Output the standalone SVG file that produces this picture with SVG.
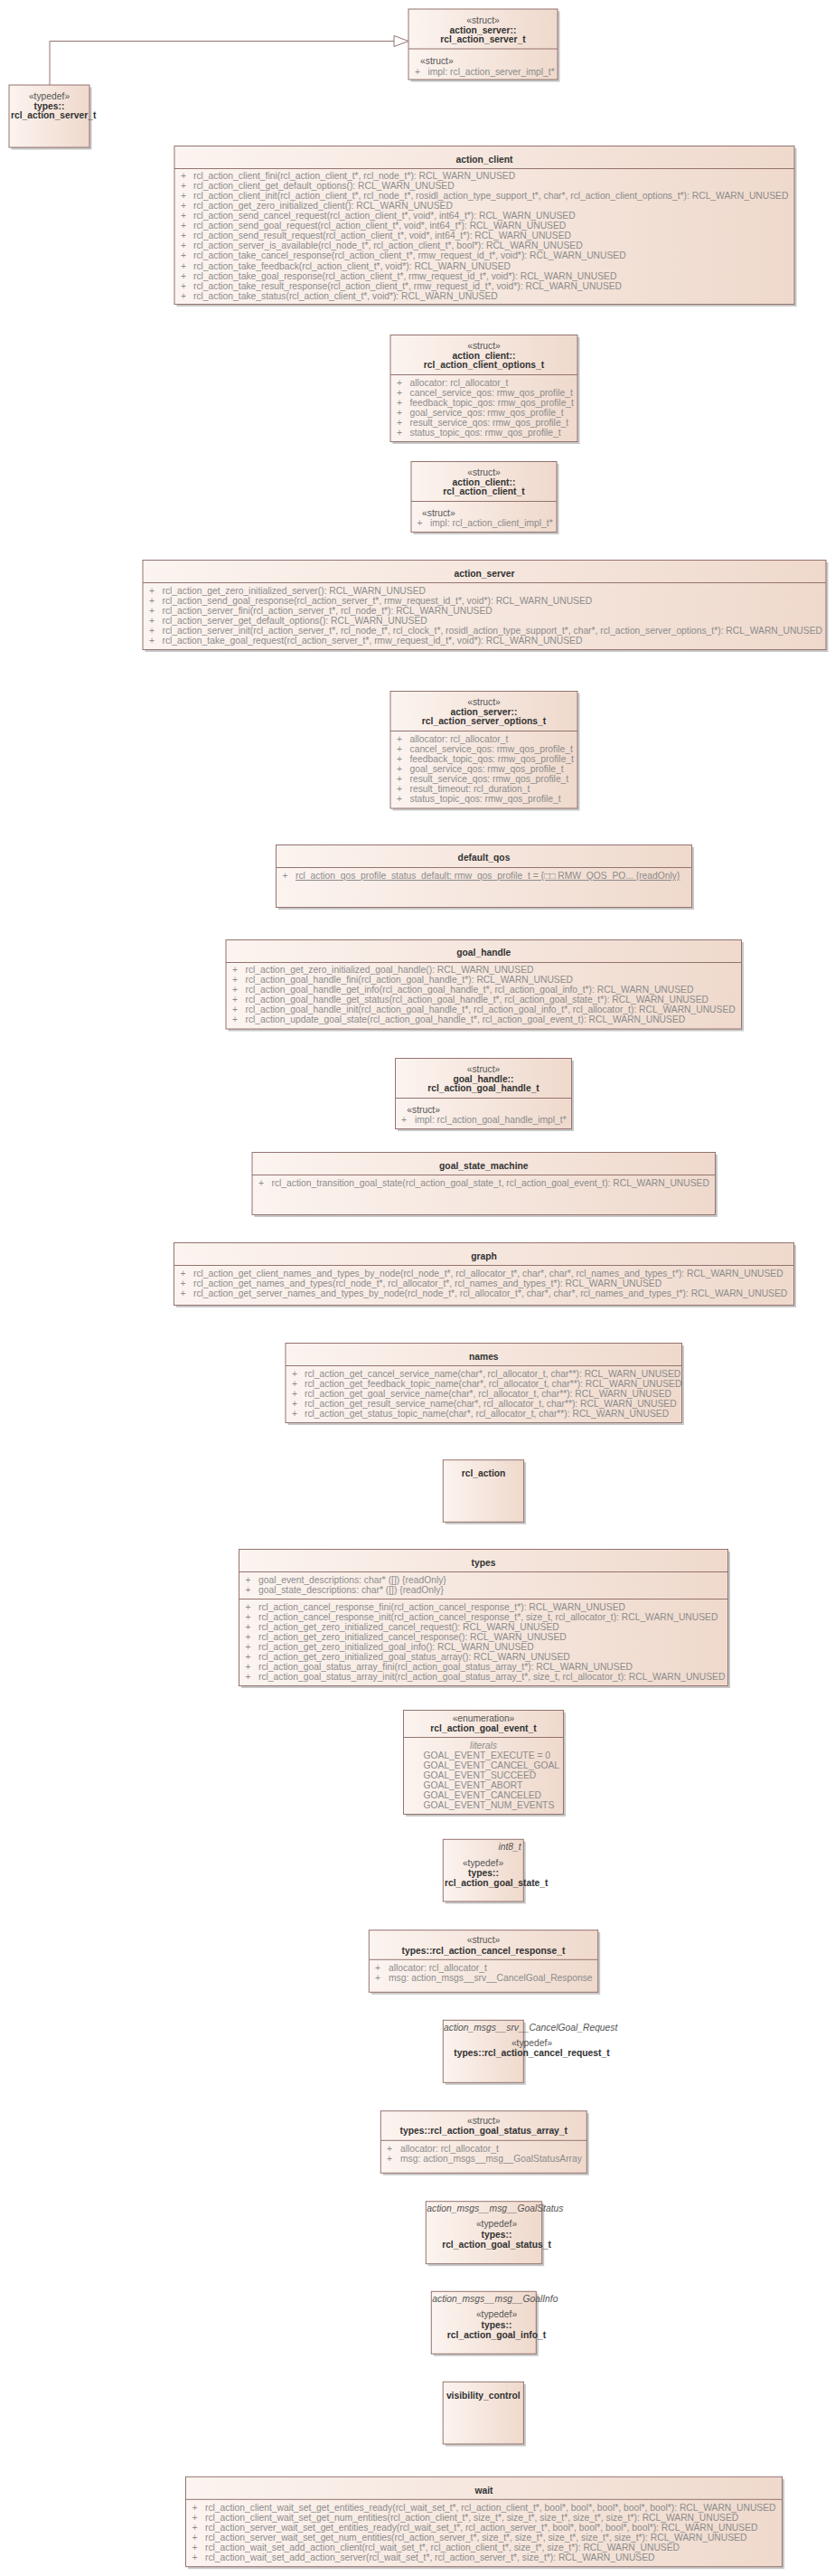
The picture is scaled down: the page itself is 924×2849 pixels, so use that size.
<svg xmlns="http://www.w3.org/2000/svg" width="924" height="2849" viewBox="0 0 924 2849">
<defs>
<linearGradient id="g" x1="0" y1="0" x2="1" y2="0">
<stop offset="0" stop-color="#fcf4f0"/>
<stop offset="1" stop-color="#efd9cc"/>
</linearGradient>
</defs>
<style>
.sh{fill:#c8c8c8}
.bx{fill:url(#g);stroke:#94736f;stroke-width:1}
.sep{stroke:#94736f;stroke-width:1}
.cn{fill:none;stroke:#94736f;stroke-width:1}
text{font-family:"Liberation Sans",Arial,sans-serif;font-size:10.3px}
.h{font-weight:bold;fill:#333;text-anchor:middle}
.hb{font-weight:bold;fill:#333}
.st{fill:#555;text-anchor:middle}
.sl{fill:#555}
.m{fill:#8c8c8c}
.it{font-style:italic;fill:#555}
.lit{font-style:italic;fill:#8c8c8c;text-anchor:middle}
.u{text-decoration:underline}
</style>
<rect width="924" height="2849" fill="#ffffff"/>

<g id="connectors">
<path class="cn" d="M55,94 V45.5 H436"/>
<polygon points="436,39.5 452,45.5 436,51.5" fill="#ffffff" stroke="#94736f" stroke-width="1"/>
</g>

<g id="action_server_rcl_action_server_t">
<rect class="sh" x="454.5" y="12.5" width="165" height="78"/>
<rect class="bx" x="452" y="10" width="165" height="78"/>
<line class="sep" x1="452" y1="54" x2="617" y2="54"/>
<text class="st" x="534.5" y="25.5">«struct»</text>
<text class="h" x="534.5" y="36.8">action_server::</text>
<text class="h" x="534.5" y="47.2">rcl_action_server_t</text>
<text class="sl" x="465" y="71.3">«struct»</text>
<text class="m" y="83.3"><tspan x="459">+</tspan><tspan x="473.5">impl: rcl_action_server_impl_t*</tspan></text>
</g>

<g id="types_rcl_action_server_t">
<rect class="sh" x="12.5" y="96.5" width="89" height="69"/>
<rect class="bx" x="10" y="94" width="89" height="69"/>
<text class="st" x="54.5" y="109.5">«typedef»</text>
<text class="h" x="54.5" y="120.8">types::</text>
<text class="hb" x="12" y="131.2">rcl_action_server_t</text>
</g>

<g id="action_client">
<rect class="sh" x="195.5" y="164" width="686" height="175"/>
<rect class="bx" x="193" y="161.5" width="686" height="175"/>
<line class="sep" x1="193" y1="186.5" x2="879" y2="186.5"/>
<text class="h" x="536" y="179.5">action_client</text>
<text class="m" y="198"><tspan x="200">+</tspan><tspan x="214">rcl_action_client_fini(rcl_action_client_t*, rcl_node_t*): RCL_WARN_UNUSED</tspan></text>
<text class="m" y="209.1"><tspan x="200">+</tspan><tspan x="214">rcl_action_client_get_default_options(): RCL_WARN_UNUSED</tspan></text>
<text class="m" y="220.1"><tspan x="200">+</tspan><tspan x="214">rcl_action_client_init(rcl_action_client_t*, rcl_node_t*, rosidl_action_type_support_t*, char*, rcl_action_client_options_t*): RCL_WARN_UNUSED</tspan></text>
<text class="m" y="231.2"><tspan x="200">+</tspan><tspan x="214">rcl_action_get_zero_initialized_client(): RCL_WARN_UNUSED</tspan></text>
<text class="m" y="242.2"><tspan x="200">+</tspan><tspan x="214">rcl_action_send_cancel_request(rcl_action_client_t*, void*, int64_t*): RCL_WARN_UNUSED</tspan></text>
<text class="m" y="253.3"><tspan x="200">+</tspan><tspan x="214">rcl_action_send_goal_request(rcl_action_client_t*, void*, int64_t*): RCL_WARN_UNUSED</tspan></text>
<text class="m" y="264.3"><tspan x="200">+</tspan><tspan x="214">rcl_action_send_result_request(rcl_action_client_t*, void*, int64_t*): RCL_WARN_UNUSED</tspan></text>
<text class="m" y="275.4"><tspan x="200">+</tspan><tspan x="214">rcl_action_server_is_available(rcl_node_t*, rcl_action_client_t*, bool*): RCL_WARN_UNUSED</tspan></text>
<text class="m" y="286.4"><tspan x="200">+</tspan><tspan x="214">rcl_action_take_cancel_response(rcl_action_client_t*, rmw_request_id_t*, void*): RCL_WARN_UNUSED</tspan></text>
<text class="m" y="297.5"><tspan x="200">+</tspan><tspan x="214">rcl_action_take_feedback(rcl_action_client_t*, void*): RCL_WARN_UNUSED</tspan></text>
<text class="m" y="308.5"><tspan x="200">+</tspan><tspan x="214">rcl_action_take_goal_response(rcl_action_client_t*, rmw_request_id_t*, void*): RCL_WARN_UNUSED</tspan></text>
<text class="m" y="319.6"><tspan x="200">+</tspan><tspan x="214">rcl_action_take_result_response(rcl_action_client_t*, rmw_request_id_t*, void*): RCL_WARN_UNUSED</tspan></text>
<text class="m" y="330.6"><tspan x="200">+</tspan><tspan x="214">rcl_action_take_status(rcl_action_client_t*, void*): RCL_WARN_UNUSED</tspan></text>
</g>

<g id="action_client_rcl_action_client_options_t">
<rect class="sh" x="434.5" y="373" width="207" height="118"/>
<rect class="bx" x="432" y="370.5" width="207" height="118"/>
<line class="sep" x1="432" y1="414.5" x2="639" y2="414.5"/>
<text class="st" x="535.5" y="385.5">«struct»</text>
<text class="h" x="535.5" y="396.5">action_client::</text>
<text class="h" x="535.5" y="407.2">rcl_action_client_options_t</text>
<text class="m" y="426.7"><tspan x="439">+</tspan><tspan x="453.5">allocator: rcl_allocator_t</tspan></text>
<text class="m" y="437.7"><tspan x="439">+</tspan><tspan x="453.5">cancel_service_qos: rmw_qos_profile_t</tspan></text>
<text class="m" y="448.7"><tspan x="439">+</tspan><tspan x="453.5">feedback_topic_qos: rmw_qos_profile_t</tspan></text>
<text class="m" y="459.7"><tspan x="439">+</tspan><tspan x="453.5">goal_service_qos: rmw_qos_profile_t</tspan></text>
<text class="m" y="470.7"><tspan x="439">+</tspan><tspan x="453.5">result_service_qos: rmw_qos_profile_t</tspan></text>
<text class="m" y="481.7"><tspan x="439">+</tspan><tspan x="453.5">status_topic_qos: rmw_qos_profile_t</tspan></text>
</g>

<g id="action_client_rcl_action_client_t">
<rect class="sh" x="457.5" y="513" width="161" height="78"/>
<rect class="bx" x="455" y="510.5" width="161" height="78"/>
<line class="sep" x1="455" y1="554.5" x2="616" y2="554.5"/>
<text class="st" x="535.5" y="525.5">«struct»</text>
<text class="h" x="535.5" y="536.5">action_client::</text>
<text class="h" x="535.5" y="547.2">rcl_action_client_t</text>
<text class="sl" x="467" y="571.3">«struct»</text>
<text class="m" y="582.3"><tspan x="461.5">+</tspan><tspan x="476">impl: rcl_action_client_impl_t*</tspan></text>
</g>

<g id="action_server">
<rect class="sh" x="160.5" y="622" width="756" height="99"/>
<rect class="bx" x="158" y="619.5" width="756" height="99"/>
<line class="sep" x1="158" y1="644.5" x2="914" y2="644.5"/>
<text class="h" x="536" y="637.5">action_server</text>
<text class="m" y="657"><tspan x="165">+</tspan><tspan x="179.5">rcl_action_get_zero_initialized_server(): RCL_WARN_UNUSED</tspan></text>
<text class="m" y="668"><tspan x="165">+</tspan><tspan x="179.5">rcl_action_send_goal_response(rcl_action_server_t*, rmw_request_id_t*, void*): RCL_WARN_UNUSED</tspan></text>
<text class="m" y="679"><tspan x="165">+</tspan><tspan x="179.5">rcl_action_server_fini(rcl_action_server_t*, rcl_node_t*): RCL_WARN_UNUSED</tspan></text>
<text class="m" y="690"><tspan x="165">+</tspan><tspan x="179.5">rcl_action_server_get_default_options(): RCL_WARN_UNUSED</tspan></text>
<text class="m" y="701"><tspan x="165">+</tspan><tspan x="179.5">rcl_action_server_init(rcl_action_server_t*, rcl_node_t*, rcl_clock_t*, rosidl_action_type_support_t*, char*, rcl_action_server_options_t*): RCL_WARN_UNUSED</tspan></text>
<text class="m" y="712"><tspan x="165">+</tspan><tspan x="179.5">rcl_action_take_goal_request(rcl_action_server_t*, rmw_request_id_t*, void*): RCL_WARN_UNUSED</tspan></text>
</g>

<g id="action_server_rcl_action_server_options_t">
<rect class="sh" x="434.5" y="767" width="207" height="129.5"/>
<rect class="bx" x="432" y="764.5" width="207" height="129.5"/>
<line class="sep" x1="432" y1="808.5" x2="639" y2="808.5"/>
<text class="st" x="535.5" y="779.5">«struct»</text>
<text class="h" x="535.5" y="790.5">action_server::</text>
<text class="h" x="535.5" y="800.8">rcl_action_server_options_t</text>
<text class="m" y="820.7"><tspan x="439">+</tspan><tspan x="453.5">allocator: rcl_allocator_t</tspan></text>
<text class="m" y="831.7"><tspan x="439">+</tspan><tspan x="453.5">cancel_service_qos: rmw_qos_profile_t</tspan></text>
<text class="m" y="842.7"><tspan x="439">+</tspan><tspan x="453.5">feedback_topic_qos: rmw_qos_profile_t</tspan></text>
<text class="m" y="853.7"><tspan x="439">+</tspan><tspan x="453.5">goal_service_qos: rmw_qos_profile_t</tspan></text>
<text class="m" y="864.7"><tspan x="439">+</tspan><tspan x="453.5">result_service_qos: rmw_qos_profile_t</tspan></text>
<text class="m" y="875.7"><tspan x="439">+</tspan><tspan x="453.5">result_timeout: rcl_duration_t</tspan></text>
<text class="m" y="886.7"><tspan x="439">+</tspan><tspan x="453.5">status_topic_qos: rmw_qos_profile_t</tspan></text>
</g>

<g id="default_qos">
<rect class="sh" x="308" y="937" width="460" height="69"/>
<rect class="bx" x="305.5" y="934.5" width="460" height="69"/>
<line class="sep" x1="305.5" y1="959.5" x2="765.5" y2="959.5"/>
<text class="h" x="535.5" y="952.2">default_qos</text>
<text class="m" y="972"><tspan x="312.5">+</tspan><tspan x="327" class="u">rcl_action_qos_profile_status_default: rmw_qos_profile_t = {□□ RMW_QOS_PO... {readOnly}</tspan></text>
</g>

<g id="goal_handle">
<rect class="sh" x="252.5" y="1042" width="570.5" height="98.5"/>
<rect class="bx" x="250" y="1039.5" width="570.5" height="98.5"/>
<line class="sep" x1="250" y1="1064.5" x2="820.5" y2="1064.5"/>
<text class="h" x="535.3" y="1057.2">goal_handle</text>
<text class="m" y="1076.3"><tspan x="257">+</tspan><tspan x="271.5">rcl_action_get_zero_initialized_goal_handle(): RCL_WARN_UNUSED</tspan></text>
<text class="m" y="1087.3"><tspan x="257">+</tspan><tspan x="271.5">rcl_action_goal_handle_fini(rcl_action_goal_handle_t*): RCL_WARN_UNUSED</tspan></text>
<text class="m" y="1098.3"><tspan x="257">+</tspan><tspan x="271.5">rcl_action_goal_handle_get_info(rcl_action_goal_handle_t*, rcl_action_goal_info_t*): RCL_WARN_UNUSED</tspan></text>
<text class="m" y="1109.3"><tspan x="257">+</tspan><tspan x="271.5">rcl_action_goal_handle_get_status(rcl_action_goal_handle_t*, rcl_action_goal_state_t*): RCL_WARN_UNUSED</tspan></text>
<text class="m" y="1120.3"><tspan x="257">+</tspan><tspan x="271.5">rcl_action_goal_handle_init(rcl_action_goal_handle_t*, rcl_action_goal_info_t*, rcl_allocator_t): RCL_WARN_UNUSED</tspan></text>
<text class="m" y="1131.3"><tspan x="257">+</tspan><tspan x="271.5">rcl_action_update_goal_state(rcl_action_goal_handle_t*, rcl_action_goal_event_t): RCL_WARN_UNUSED</tspan></text>
</g>

<g id="goal_handle_rcl_action_goal_handle_t">
<rect class="sh" x="440" y="1173" width="195" height="78"/>
<rect class="bx" x="437.5" y="1170.5" width="195" height="78"/>
<line class="sep" x1="437.5" y1="1214.5" x2="632.5" y2="1214.5"/>
<text class="st" x="535" y="1185.5">«struct»</text>
<text class="h" x="535" y="1196.5">goal_handle::</text>
<text class="h" x="535" y="1207.2">rcl_action_goal_handle_t</text>
<text class="sl" x="450.3" y="1231">«struct»</text>
<text class="m" y="1241.5"><tspan x="444">+</tspan><tspan x="459">impl: rcl_action_goal_handle_impl_t*</tspan></text>
</g>

<g id="goal_state_machine">
<rect class="sh" x="281.5" y="1277" width="512.5" height="69"/>
<rect class="bx" x="279" y="1274.5" width="512.5" height="69"/>
<line class="sep" x1="279" y1="1299.5" x2="791.5" y2="1299.5"/>
<text class="h" x="535.3" y="1292.5">goal_state_machine</text>
<text class="m" y="1311.7"><tspan x="286">+</tspan><tspan x="300.5">rcl_action_transition_goal_state(rcl_action_goal_state_t, rcl_action_goal_event_t): RCL_WARN_UNUSED</tspan></text>
</g>

<g id="graph">
<rect class="sh" x="195" y="1377" width="686" height="69"/>
<rect class="bx" x="192.5" y="1374.5" width="686" height="69"/>
<line class="sep" x1="192.5" y1="1399.5" x2="878.5" y2="1399.5"/>
<text class="h" x="535.5" y="1392.5">graph</text>
<text class="m" y="1411.7"><tspan x="199.5">+</tspan><tspan x="214">rcl_action_get_client_names_and_types_by_node(rcl_node_t*, rcl_allocator_t*, char*, char*, rcl_names_and_types_t*): RCL_WARN_UNUSED</tspan></text>
<text class="m" y="1422.7"><tspan x="199.5">+</tspan><tspan x="214">rcl_action_get_names_and_types(rcl_node_t*, rcl_allocator_t*, rcl_names_and_types_t*): RCL_WARN_UNUSED</tspan></text>
<text class="m" y="1433.7"><tspan x="199.5">+</tspan><tspan x="214">rcl_action_get_server_names_and_types_by_node(rcl_node_t*, rcl_allocator_t*, char*, char*, rcl_names_and_types_t*): RCL_WARN_UNUSED</tspan></text>
</g>

<g id="names">
<rect class="sh" x="318.5" y="1488" width="438.5" height="88"/>
<rect class="bx" x="316" y="1485.5" width="438.5" height="88"/>
<line class="sep" x1="316" y1="1510.5" x2="754.5" y2="1510.5"/>
<text class="h" x="535.3" y="1503.5">names</text>
<text class="m" y="1522.7"><tspan x="323">+</tspan><tspan x="337">rcl_action_get_cancel_service_name(char*, rcl_allocator_t, char**): RCL_WARN_UNUSED</tspan></text>
<text class="m" y="1533.7"><tspan x="323">+</tspan><tspan x="337">rcl_action_get_feedback_topic_name(char*, rcl_allocator_t, char**): RCL_WARN_UNUSED</tspan></text>
<text class="m" y="1544.7"><tspan x="323">+</tspan><tspan x="337">rcl_action_get_goal_service_name(char*, rcl_allocator_t, char**): RCL_WARN_UNUSED</tspan></text>
<text class="m" y="1555.7"><tspan x="323">+</tspan><tspan x="337">rcl_action_get_result_service_name(char*, rcl_allocator_t, char**): RCL_WARN_UNUSED</tspan></text>
<text class="m" y="1566.7"><tspan x="323">+</tspan><tspan x="337">rcl_action_get_status_topic_name(char*, rcl_allocator_t, char**): RCL_WARN_UNUSED</tspan></text>
</g>

<g id="rcl_action">
<rect class="sh" x="492.8" y="1617.2" width="89.3" height="68.6"/>
<rect class="bx" x="490.3" y="1614.7" width="89.3" height="68.6"/>
<text class="h" x="535" y="1632.5">rcl_action</text>
</g>

<g id="types">
<rect class="sh" x="267" y="1716" width="541" height="151"/>
<rect class="bx" x="264.5" y="1713.5" width="541" height="151"/>
<line class="sep" x1="264.5" y1="1738.5" x2="805.5" y2="1738.5"/>
<line class="sep" x1="264.5" y1="1768.5" x2="805.5" y2="1768.5"/>
<text class="h" x="535" y="1731.5">types</text>
<text class="m" y="1750.7"><tspan x="271.5">+</tspan><tspan x="286">goal_event_descriptions: char* ([]) {readOnly}</tspan></text>
<text class="m" y="1761.7"><tspan x="271.5">+</tspan><tspan x="286">goal_state_descriptions: char* ([]) {readOnly}</tspan></text>
<text class="m" y="1780.7"><tspan x="271.5">+</tspan><tspan x="286">rcl_action_cancel_response_fini(rcl_action_cancel_response_t*): RCL_WARN_UNUSED</tspan></text>
<text class="m" y="1791.7"><tspan x="271.5">+</tspan><tspan x="286">rcl_action_cancel_response_init(rcl_action_cancel_response_t*, size_t, rcl_allocator_t): RCL_WARN_UNUSED</tspan></text>
<text class="m" y="1802.7"><tspan x="271.5">+</tspan><tspan x="286">rcl_action_get_zero_initialized_cancel_request(): RCL_WARN_UNUSED</tspan></text>
<text class="m" y="1813.7"><tspan x="271.5">+</tspan><tspan x="286">rcl_action_get_zero_initialized_cancel_response(): RCL_WARN_UNUSED</tspan></text>
<text class="m" y="1824.7"><tspan x="271.5">+</tspan><tspan x="286">rcl_action_get_zero_initialized_goal_info(): RCL_WARN_UNUSED</tspan></text>
<text class="m" y="1835.7"><tspan x="271.5">+</tspan><tspan x="286">rcl_action_get_zero_initialized_goal_status_array(): RCL_WARN_UNUSED</tspan></text>
<text class="m" y="1846.7"><tspan x="271.5">+</tspan><tspan x="286">rcl_action_goal_status_array_fini(rcl_action_goal_status_array_t*): RCL_WARN_UNUSED</tspan></text>
<text class="m" y="1857.7"><tspan x="271.5">+</tspan><tspan x="286">rcl_action_goal_status_array_init(rcl_action_goal_status_array_t*, size_t, rcl_allocator_t): RCL_WARN_UNUSED</tspan></text>
</g>

<g id="rcl_action_goal_event_t">
<rect class="sh" x="449" y="1894" width="177" height="115"/>
<rect class="bx" x="446.5" y="1891.5" width="177" height="115"/>
<line class="sep" x1="446.5" y1="1921.5" x2="623.5" y2="1921.5"/>
<text class="st" x="535" y="1903.5">«enumeration»</text>
<text class="h" x="535" y="1914.5">rcl_action_goal_event_t</text>
<text class="lit" x="535" y="1934">literals</text>
<text class="m" x="468.5" y="1944.7">GOAL_EVENT_EXECUTE = 0</text>
<text class="m" x="468.5" y="1955.7">GOAL_EVENT_CANCEL_GOAL</text>
<text class="m" x="468.5" y="1966.7">GOAL_EVENT_SUCCEED</text>
<text class="m" x="468.5" y="1977.7">GOAL_EVENT_ABORT</text>
<text class="m" x="468.5" y="1988.7">GOAL_EVENT_CANCELED</text>
<text class="m" x="468.5" y="1999.7">GOAL_EVENT_NUM_EVENTS</text>
</g>

<g id="types_rcl_action_goal_state_t">
<rect class="sh" x="492.8" y="2036.8" width="89" height="68.7"/>
<rect class="bx" x="490.3" y="2034.3" width="89" height="68.7"/>
<text class="it" x="576.7" y="2046.3" text-anchor="end">int8_t</text>
<text class="st" x="534.5" y="2063.5">«typedef»</text>
<text class="h" x="535" y="2074.5">types::</text>
<text class="hb" x="492" y="2085.5">rcl_action_goal_state_t</text>
</g>

<g id="types_rcl_action_cancel_response_t">
<rect class="sh" x="410.8" y="2137.2" width="253.4" height="68.6"/>
<rect class="bx" x="408.3" y="2134.7" width="253.4" height="68.6"/>
<line class="sep" x1="408.3" y1="2167.3" x2="661.7" y2="2167.3"/>
<text class="st" x="535" y="2149.2">«struct»</text>
<text class="h" x="535" y="2160.5">types::rcl_action_cancel_response_t</text>
<text class="m" y="2179.7"><tspan x="415">+</tspan><tspan x="430">allocator: rcl_allocator_t</tspan></text>
<text class="m" y="2190.7"><tspan x="415">+</tspan><tspan x="430">msg: action_msgs__srv__CancelGoal_Response</tspan></text>
</g>

<g id="types_rcl_action_cancel_request_t">
<rect class="sh" x="492.8" y="2236.8" width="89" height="69"/>
<rect class="bx" x="490.3" y="2234.3" width="89" height="69"/>
<text class="it" x="491" y="2246.2">action_msgs__srv__CancelGoal_Request</text>
<text class="st" x="588.5" y="2263.2">«typedef»</text>
<text class="h" x="588.5" y="2274.2">types::rcl_action_cancel_request_t</text>
</g>

<g id="types_rcl_action_goal_status_array_t">
<rect class="sh" x="423.8" y="2337.2" width="228" height="68.6"/>
<rect class="bx" x="421.3" y="2334.7" width="228" height="68.6"/>
<line class="sep" x1="421.3" y1="2367.3" x2="649.3" y2="2367.3"/>
<text class="st" x="535.3" y="2349.2">«struct»</text>
<text class="h" x="535.3" y="2360.2">types::rcl_action_goal_status_array_t</text>
<text class="m" y="2379.7"><tspan x="428">+</tspan><tspan x="443">allocator: rcl_allocator_t</tspan></text>
<text class="m" y="2390.7"><tspan x="428">+</tspan><tspan x="443">msg: action_msgs__msg__GoalStatusArray</tspan></text>
</g>

<g id="types_rcl_action_goal_status_t">
<rect class="sh" x="473.8" y="2437.2" width="128.4" height="69"/>
<rect class="bx" x="471.3" y="2434.7" width="128.4" height="69"/>
<text class="it" x="472.3" y="2446.2">action_msgs__msg__GoalStatus</text>
<text class="st" x="549.5" y="2463.2">«typedef»</text>
<text class="h" x="549.5" y="2474.5">types::</text>
<text class="h" x="549.5" y="2485.5">rcl_action_goal_status_t</text>
</g>

<g id="types_rcl_action_goal_info_t">
<rect class="sh" x="479.8" y="2536.8" width="116" height="69"/>
<rect class="bx" x="477.3" y="2534.3" width="116" height="69"/>
<text class="it" x="478.3" y="2546.2">action_msgs__msg__GoalInfo</text>
<text class="st" x="549.5" y="2563.2">«typedef»</text>
<text class="h" x="549.5" y="2574.5">types::</text>
<text class="h" x="549.5" y="2585.5">rcl_action_goal_info_t</text>
</g>

<g id="visibility_control">
<rect class="sh" x="492.7" y="2636.8" width="89.2" height="68.7"/>
<rect class="bx" x="490.2" y="2634.3" width="89.2" height="68.7"/>
<text class="h" x="534.8" y="2652.5">visibility_control</text>
</g>

<g id="wait">
<rect class="sh" x="208" y="2741.8" width="660" height="99.4"/>
<rect class="bx" x="205.5" y="2739.3" width="660" height="99.4"/>
<line class="sep" x1="205.5" y1="2764.3" x2="865.5" y2="2764.3"/>
<text class="h" x="535.5" y="2757.8">wait</text>
<text class="m" y="2777"><tspan x="212.5">+</tspan><tspan x="227">rcl_action_client_wait_set_get_entities_ready(rcl_wait_set_t*, rcl_action_client_t*, bool*, bool*, bool*, bool*, bool*): RCL_WARN_UNUSED</tspan></text>
<text class="m" y="2788"><tspan x="212.5">+</tspan><tspan x="227">rcl_action_client_wait_set_get_num_entities(rcl_action_client_t*, size_t*, size_t*, size_t*, size_t*, size_t*): RCL_WARN_UNUSED</tspan></text>
<text class="m" y="2799"><tspan x="212.5">+</tspan><tspan x="227">rcl_action_server_wait_set_get_entities_ready(rcl_wait_set_t*, rcl_action_server_t*, bool*, bool*, bool*, bool*): RCL_WARN_UNUSED</tspan></text>
<text class="m" y="2810"><tspan x="212.5">+</tspan><tspan x="227">rcl_action_server_wait_set_get_num_entities(rcl_action_server_t*, size_t*, size_t*, size_t*, size_t*, size_t*): RCL_WARN_UNUSED</tspan></text>
<text class="m" y="2821"><tspan x="212.5">+</tspan><tspan x="227">rcl_action_wait_set_add_action_client(rcl_wait_set_t*, rcl_action_client_t*, size_t*, size_t*): RCL_WARN_UNUSED</tspan></text>
<text class="m" y="2832"><tspan x="212.5">+</tspan><tspan x="227">rcl_action_wait_set_add_action_server(rcl_wait_set_t*, rcl_action_server_t*, size_t*): RCL_WARN_UNUSED</tspan></text>
</g>
</svg>
